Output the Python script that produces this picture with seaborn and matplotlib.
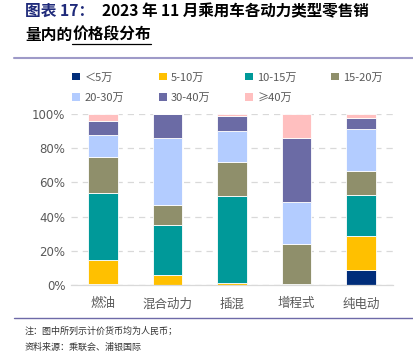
import matplotlib
matplotlib.use("Agg")
import matplotlib.pyplot as plt
import seaborn as sns
import numpy as np
import pandas as pd
from matplotlib.patches import Patch
from matplotlib.lines import Line2D

sns.set_theme(style="white")
plt.rcParams['font.family'] = ['Noto Sans CJK SC', 'DejaVu Sans']

categories = ["燃油", "混合动力", "插混", "增程式", "纯电动"]
series_names = ["＜5万", "5-10万", "10-15万", "15-20万", "20-30万", "30-40万", "≥40万"]
v_lt5 = [0.7, 0.0, 0.0, 0.0, 8.8]
v_5_10 = [13.8, 5.9, 1.0, 0.0, 20.1]
v_10_15 = [39.4, 28.9, 51.3, 0.3, 24.0]
v_15_20 = [20.9, 12.1, 19.8, 23.5, 13.9]
v_20_30 = [13.1, 39.0, 17.7, 25.0, 24.2]
v_30_40 = [8.0, 14.1, 9.2, 36.9, 6.9]
v_ge40 = [4.1, 0.0, 1.0, 14.3, 2.1]
colors = ["#002D7A", "#FFC000", "#009999", "#8F8F6B", "#B3CCFF", "#6B6BA5", "#FFBFBF"]

series_vals = [v_lt5, v_5_10, v_10_15, v_15_20, v_20_30, v_30_40, v_ge40]

fig = plt.figure(figsize=(4.13, 3.54), dpi=100)
ax = fig.add_axes([71/413, 1-285/354, (393-71)/413, (285-114)/354])

bottom = np.zeros(len(categories))
for name, vals, col in zip(series_names, series_vals, colors):
    df = pd.DataFrame({"cat": categories, "val": np.array(vals) / 100.0})
    sns.barplot(data=df, x="cat", y="val", color=col, bottom=bottom, width=0.46,
                edgecolor="white", linewidth=0.6, ax=ax, saturation=1)
    bottom = bottom + df["val"].values

ax.set_ylim(0, 1.0)
ax.set_xlim(-0.5, 4.5)
ax.set_yticks(np.arange(0, 1.01, 0.2))
ax.set_yticklabels([f"{int(round(v*100))}%" for v in np.arange(0, 1.01, 0.2)],
                   fontsize=8.5, color="#595959", family="DejaVu Sans")
ax.yaxis.grid(True, linestyle=(0, (5, 4)), color="#D9D9D9", linewidth=0.9)
ax.set_axisbelow(True)
ax.set_xlabel("")
ax.set_ylabel("")
for s in ["top", "right", "left"]:
    ax.spines[s].set_visible(False)
ax.spines["bottom"].set_color("#D9D9D9")
ax.spines["bottom"].set_linewidth(0.9)
ax.set_xticks(range(len(categories)))
ax.set_xticklabels(categories, fontsize=9, color="#595959")
ax.set_xticks(np.arange(-0.5, 4.6, 1), minor=True)
ax.tick_params(axis="x", which="major", length=0, pad=9)
ax.tick_params(axis="x", which="minor", length=5, color="#D9D9D9", width=0.9, direction="out")
ax.tick_params(axis="y", length=0, pad=4)

handles = [Patch(facecolor=c, edgecolor="none") for c in colors]
order = [0, 4, 1, 5, 2, 6, 3]
leg = fig.legend([handles[i] for i in order], [series_names[i] for i in order],
                 loc="upper left", bbox_to_anchor=(68/413, 1-68/354),
                 ncol=4, frameon=False, fontsize=8, handlelength=0.7, handleheight=0.7,
                 handletextpad=0.4, columnspacing=3.1, labelspacing=0.95, borderaxespad=0)
for t in leg.get_texts():
    t.set_color("#595959")

# title
fig.canvas.draw()
renderer = fig.canvas.get_renderer()
W = fig.bbox.width
ta = fig.text(25/413, 1-11/354, "图表 17：", fontsize=11.3, fontweight="bold", color="#1F2A7A",
              va="center", ha="left")
fig.text(102/413, 1-11/354, "2023 年 11 月乘用车各动力类型零售销", fontsize=11.2,
         fontweight="bold", color="black", va="center", ha="left")
tb = fig.text(25/413, 1-35/354, "量内的", fontsize=11.3, fontweight="bold", color="black",
              va="center", ha="left")
bb = tb.get_window_extent(renderer)
x2 = bb.x1 / W
tc = fig.text(x2, 1-35/354, "价格段分布", fontsize=11.3, fontweight="bold", color="black",
              va="center", ha="left")
bc = tc.get_window_extent(renderer)
fig.add_artist(Line2D([x2, bc.x1 / W], [1-44/354, 1-44/354], color="black", linewidth=0.9))

# separators
fig.add_artist(Line2D([14/413, 1.0], [1-58/354, 1-58/354], color="#9E9AC8", linewidth=1.5))
fig.add_artist(Line2D([14/413, 1.0], [1-318/354, 1-318/354], color="#6E6AA8", linewidth=1.0))

fig.text(25/413, 1-331/354, "注：图中所列示计价货币均为人民币；", fontsize=6.5, color="#333333",
         va="center", ha="left")
fig.text(25/413, 1-347/354, "资料来源：乘联会、浦银国际", fontsize=6.5, color="#333333",
         va="center", ha="left")

fig.savefig("out.png", dpi=100)
